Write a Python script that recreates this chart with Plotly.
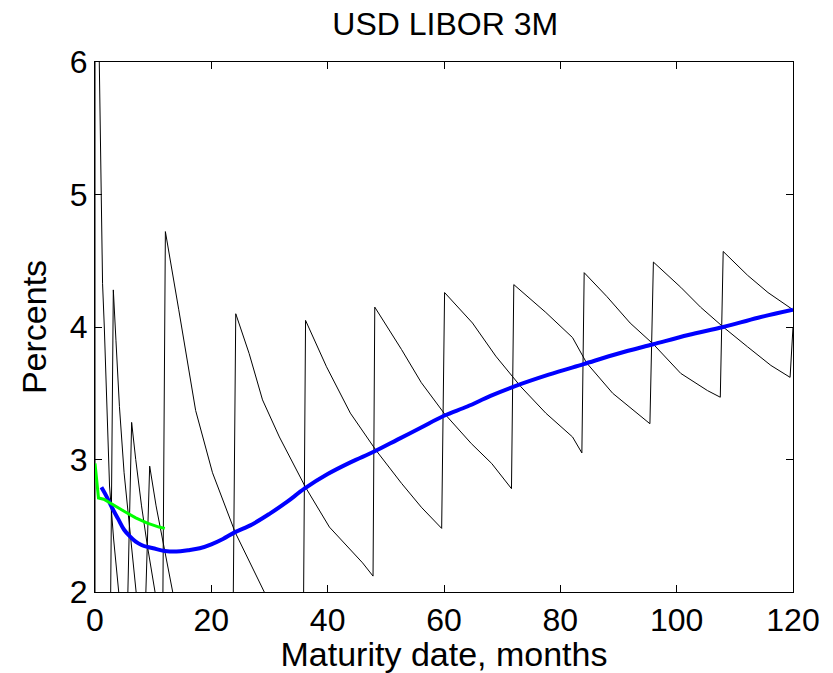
import plotly.graph_objects as go

# ---- data ----
# implied forward curves (black saw-tooth), teeth separated by None
saw_short_months = [0.0, 0.0, 0.4, 0.75, 0.9, 1.05, 1.3, 1.6, 1.9, 2.2, 2.5, 3.2, 4.0, 4.3, None,
                    2.6, 3.15, 3.6, 4.2, 5.0, 6.0, 7.0, 7.3, None,
                    5.4, 6.3, 7.0, 8.0, 9.0, 10.4, 10.7, None,
                    8.4, 9.4, 10.5, 12.0, 13.4, 13.8, None]
saw_short_rates = [1.0, 9.0, 7.0, 6.0, 5.67, 5.0, 4.33, 4.0, 3.55, 3.2, 2.8, 2.4, 2.0, 1.9, None,
                   1.5, 4.28, 3.9, 3.4, 2.9, 2.45, 2.0, 1.9, None,
                   1.5, 3.28, 3.0, 2.65, 2.35, 2.0, 1.9, None,
                   1.5, 2.95, 2.65, 2.3, 2.0, 1.9, None]

saw_long_months = [11.6, 12.1, 14.4, 17.3, 20.2, 24.1, 29.1, 36.0, None,
                   23.7, 24.2, 26.5, 28.8, 31.7, 36.2, 40.3, 46.0, 47.8, 48.1,
                   52.7, 56.1, 60.0, 64.7, 68.2, 71.6, 72.0,
                   77.5, 82.1, 84.5, 89.0, 92.0, 95.4, 96.0,
                   100.7, 104.1, 108.0, 112.2, 116.2, 119.5, 120.0, None,
                   35.8, 36.2, 39.8, 43.9, 48.3, 52.7, 56.1, 59.6, 60.1,
                   64.9, 68.9, 73.2, 77.5, 82.1, 83.7, 84.1,
                   88.0, 92.0, 96.0, 100.7, 105.3, 107.5, 108.0,
                   112.2, 115.7, 120.0]
saw_long_rates = [1.5, 4.72, 4.13, 3.37, 2.9, 2.45, 2.0, 1.6, None,
                  1.6, 4.10, 3.80, 3.45, 3.17, 2.79, 2.49, 2.22, 2.12, 4.15,
                  3.83, 3.58, 3.35, 3.12, 2.97, 2.78, 4.32,
                  4.11, 3.92, 3.73, 3.50, 3.39, 3.27, 4.49,
                  4.30, 4.15, 4.00, 3.85, 3.71, 3.62, 4.0, None,
                  1.6, 4.05, 3.70, 3.35, 3.07, 2.82, 2.64, 2.48, 4.26,
                  4.03, 3.78, 3.55, 3.35, 3.17, 3.05, 4.41,
                  4.23, 4.03, 3.87, 3.65, 3.52, 3.47, 4.57,
                  4.39, 4.26, 4.13]

# fitted zero curve (blue)
curve_months = [1.1, 2, 3, 4, 5, 6, 7, 8, 9, 10, 12, 14, 16, 18, 20, 22, 24, 27, 30, 33,
                36, 40, 44, 48, 52, 56, 60, 64, 68, 72, 78, 84, 90, 96, 102, 108, 114, 120]
curve_rates = [2.79, 2.72, 2.63, 2.55, 2.47, 2.42, 2.38, 2.355, 2.34, 2.33, 2.31, 2.305,
               2.315, 2.33, 2.36, 2.40, 2.45, 2.51, 2.59, 2.68,
               2.78, 2.89, 2.98, 3.06, 3.15, 3.24, 3.33, 3.40, 3.48, 3.55, 3.64, 3.72,
               3.80, 3.87, 3.94, 4.00, 4.07, 4.13]

# market deposit quotes (green)
deposit_months = [0, 0.6, 1.5, 3, 5, 7, 9, 11, 12]
deposit_rates = [2.97, 2.71, 2.70, 2.66, 2.61, 2.56, 2.52, 2.49, 2.48]

x_ticks = [0, 20, 40, 60, 80, 100, 120]
y_ticks = [2, 3, 4, 5, 6]

FONT = "Liberation Sans, Arial, sans-serif"

fig = go.Figure()
fig.add_trace(go.Scatter(x=saw_short_months, y=saw_short_rates, mode="lines",
                         line=dict(color="black", width=1), connectgaps=False,
                         showlegend=False, hoverinfo="skip"))
fig.add_trace(go.Scatter(x=saw_long_months, y=saw_long_rates, mode="lines",
                         line=dict(color="black", width=1), connectgaps=False,
                         showlegend=False, hoverinfo="skip"))
fig.add_trace(go.Scatter(x=curve_months, y=curve_rates, mode="lines",
                         line=dict(color="#0000FF", width=4, shape="spline"),
                         showlegend=False))
fig.add_trace(go.Scatter(x=deposit_months, y=deposit_rates, mode="lines",
                         line=dict(color="#00FF00", width=3),
                         showlegend=False))

axis_common = dict(showline=True, linecolor="black", linewidth=1, mirror="ticks",
                   ticks="inside", ticklen=7, tickcolor="black", tickwidth=1,
                   showgrid=False, zeroline=False,
                   tickfont=dict(family=FONT, size=32, color="black"))

fig.update_xaxes(range=[0, 120], tickvals=x_ticks, ticktext=[str(v) for v in x_ticks],
                 title=dict(text="Maturity date, months", standoff=0,
                            font=dict(family=FONT, size=34, color="black")),
                 **axis_common)
fig.update_yaxes(range=[2, 6], tickvals=y_ticks, ticktext=[str(v) for v in y_ticks],
                 title=dict(text="Percents", standoff=12,
                            font=dict(family=FONT, size=34, color="black")),
                 **axis_common)

# page body adds an 8px offset, so the figure is sized 8px smaller than the window
fig.update_layout(
    width=825, height=665,
    margin=dict(l=87, r=40, t=54, b=81),
    paper_bgcolor="white", plot_bgcolor="white",
    title=dict(text="USD LIBOR 3M", x=0.53, xanchor="center",
               yref="container", y=0.993, yanchor="top",
               font=dict(family=FONT, size=32, color="black")),
    showlegend=False,
)

fig.write_html("out.html")
